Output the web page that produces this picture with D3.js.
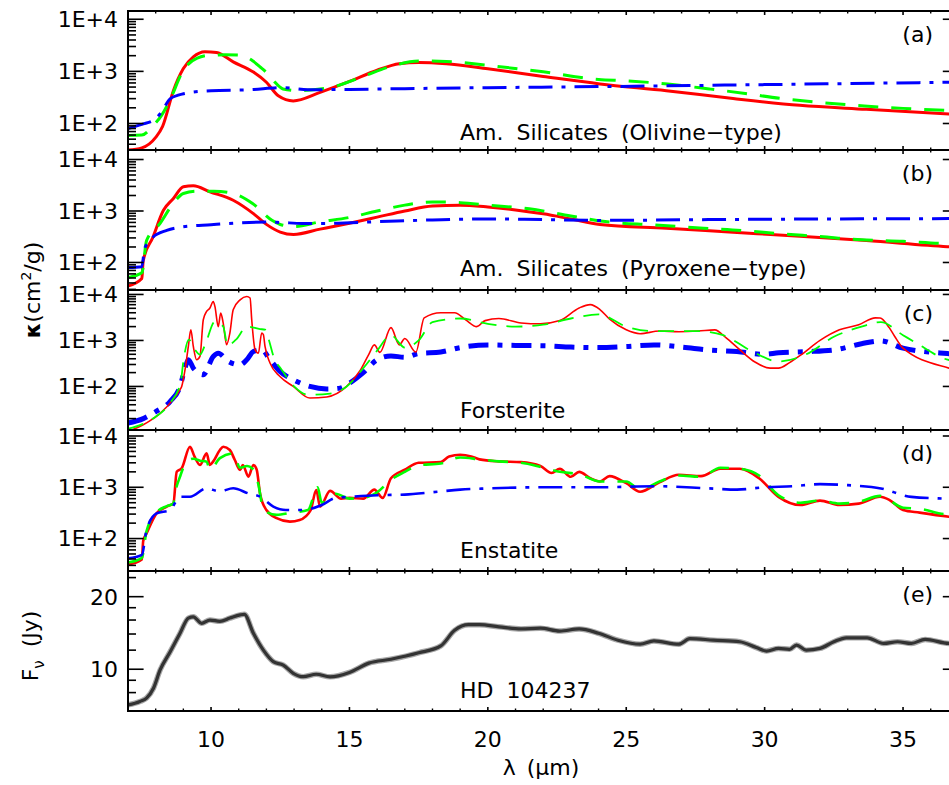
<!DOCTYPE html>
<html><head><meta charset="utf-8">
<script src="https://cdn.jsdelivr.net/npm/d3@7"></script>
<style>
body{margin:0;background:#fff}
svg{display:block}
text{font-family:"DejaVu Sans",sans-serif;fill:#000}
</style>
</head><body>
<svg id="c" width="949" height="785"></svg>
<script>
// ---------------- DATA ----------------
// Panel (a) Am. Silicates (Olivine-type)
const aRedX = [7.0,7.5,8.0,8.25,8.64,9.0,9.36,9.78,10.2,10.8,11.53,12.0,12.43,12.97,13.94,15.0,16.0,16.8,17.5,18.5,20.0,22.0,24.05,26.45,28.86,31.27,33.67,37.0];
const aRedY = [31,34,54,88,426,1130,1900,2390,2300,1525,970,618,340,271,395,640,1050,1400,1480,1400,1120,800,575,426,301,223,187,148];
const aGreenX = [7.0,7.5,7.9,8.2,8.5,9.0,9.5,10.0,10.5,11.0,11.5,11.77,12.0,12.25,12.6,13.2,13.6,14.5,15.5,16.5,17.5,18.5,20.0,22.0,24.0,25.0,26.5,28.0,29.3,30.6,32.1,33.6,35.0,37.0];
const aGreenY = [59,60,90,140,270,1050,1800,2050,2080,2050,1600,1215,950,668,460,426,440,520,800,1250,1580,1550,1300,980,700,660,570,460,377,301,251,217,195,175];
const aBlueX = [7.0,7.5,7.98,8.23,8.52,9.0,10.0,11.4,12.6,13.5,15.0,17.0,20.0,24.0,30.0,36.6,37.0];
const aBlueY = [80,96,121,173,297,371,426,445,487,445,450,466,487,510,557,618,622];

// Panel (b) Am. Silicates (Pyroxene-type)
const bRedX = [7.0,7.5,7.55,7.9,8.28,8.64,9.0,9.36,9.96,10.8,11.53,12.0,12.5,12.98,13.94,15.0,16.0,17.0,18.0,19.0,20.0,21.0,22.0,23.0,24.05,26.45,28.86,31.27,33.67,36.6,37.0];
const bRedY = [35,49,108,309,1030,1750,2950,3100,2360,1620,890,550,390,350,444,580,760,1000,1250,1300,1200,1050,880,700,548,464,387,324,266,203,197];
const bGreenX = [7.0,7.5,7.67,8.16,8.64,9.0,9.5,10.1,10.8,11.5,12.2,12.5,13.0,13.9,15.0,16.0,17.0,18.0,19.0,20.0,21.5,23.0,24.4,25.9,27.8,29.2,30.6,32.0,33.5,35.0,36.3,37.0];
const bGreenY = [51,63,266,574,1420,2190,2430,2430,2190,1400,660,548,500,610,750,1000,1300,1500,1450,1300,1100,800,610,540,464,418,360,319,275,258,236,230];
const bBlueX = [7.0,7.5,7.6,7.9,8.4,8.9,10.0,12.0,12.5,13.3,14.0,16.0,18.0,20.0,22.0,24.0,28.0,32.0,37.0];
const bBlueY = [80,83,186,309,419,486,541,609,600,574,574,620,670,700,680,657,680,700,712];

// Panel (c) Forsterite
const cRedX = [7.0,7.55,7.8,8.16,8.64,8.88,8.94,9.06,9.18,9.27,9.36,9.48,9.6,9.72,9.84,9.96,10.08,10.14,10.26,10.35,10.44,10.56,10.68,10.8,11.05,11.29,11.41,11.47,11.59,11.71,11.83,11.89,11.95,12.13,12.49,12.97,13.57,14.18,14.9,15.4,15.7,15.9,16.1,16.5,16.8,17.0,17.4,17.7,18.3,18.8,19.2,19.6,19.9,20.4,21.2,21.9,22.6,23.3,23.7,24.05,24.4,25.0,25.5,26.2,26.9,27.6,28.2,28.6,29.1,29.65,30.2,30.5,30.9,31.3,32.0,32.7,33.4,34.0,34.17,34.5,34.7,35.0,36.66,37.0];
const cRedY = [10.5,14.7,18,26,53,85,100,230,740,1710,740,380,450,2820,4270,5060,7050,5500,2000,3940,2390,810,1450,4650,7650,9050,8360,2820,630,530,1450,1340,740,323,165,100,56,59,100,230,500,800,550,1900,800,1100,560,3100,4000,4000,2800,2000,2700,3000,2400,2300,2700,5100,6000,4700,2900,1700,1400,1600,1550,1600,1700,1150,630,340,250,250,330,480,1000,1700,2200,3100,3070,1900,1220,680,250,220];
const cGreenX = [7.0,7.5,8.0,8.5,8.9,9.0,9.2,9.42,9.6,9.8,10.14,10.3,10.44,10.6,10.9,11.3,11.77,11.95,12.05,12.3,12.5,13.0,13.5,14.3,14.9,15.5,16.0,16.5,17.0,17.5,18.0,19.0,20.0,21.0,22.0,23.0,24.0,25.0,26.0,27.5,28.5,29.5,30.5,31.5,32.5,33.5,34.2,35.0,35.45,36.5,37.0];
const cGreenY = [12,15,22,42,120,350,1040,630,490,850,2590,2300,2000,780,1040,2000,1770,1710,1220,380,255,100,66,70,100,250,600,1300,700,1000,2500,3000,2300,2000,2200,3000,3700,2000,1600,1600,1300,600,350,500,1200,2000,2500,1300,900,400,340];
const cBlueX = [7.0,7.55,8.03,8.52,8.88,9.06,9.18,9.36,9.72,10.08,10.26,10.62,11.05,11.29,11.53,11.83,12.13,12.49,12.97,13.57,14.18,14.66,15.0,15.5,16.0,16.5,17.0,17.5,18.3,19.0,20.0,21.0,22.0,23.0,24.0,25.0,26.0,27.0,28.0,29.0,30.0,30.5,31.5,32.5,33.5,34.2,35.0,36.6,37.0];
const cBlueY = [16,20,29,47,100,250,380,250,180,450,530,350,295,380,575,630,380,212,140,100,88,92,118,200,380,460,430,520,560,700,800,780,770,720,700,740,800,720,620,575,500,540,570,620,850,980,680,520,500];

// Panel (d) Enstatite
const dRedX = [7.0,7.5,7.55,7.67,8.03,8.4,8.64,8.76,8.94,9.24,9.4,9.6,9.84,9.96,10.08,10.32,10.44,10.68,10.86,11.05,11.15,11.35,11.53,11.65,11.77,12.0,12.37,12.85,13.2,13.6,13.8,13.94,14.3,14.7,15.0,15.5,15.9,16.2,16.5,17.0,17.5,18.3,18.6,19.0,19.4,19.7,20.4,21.2,21.9,22.3,22.6,23.0,23.3,23.7,24.05,24.4,25.0,25.5,26.2,26.9,27.7,28.4,29.1,29.8,30.5,31.3,32.0,32.7,33.4,34.17,34.5,35.0,35.6,36.66,37.0];
const dRedY = [31,39,90,126,310,420,487,2000,2340,6180,4000,2720,4590,2720,3200,5330,6180,5330,3400,2180,2700,1610,2720,2200,760,360,250,214,230,360,885,420,850,600,620,600,900,620,1500,2200,3000,3100,4000,4300,4000,3500,3200,3100,2600,1900,2300,1600,2000,1500,1300,1650,1200,820,1250,1750,1650,2300,2300,1500,650,450,550,450,480,655,570,360,320,267,255];
const dGreenX = [7.0,7.5,7.67,8.03,8.4,8.64,8.7,8.88,9.12,9.36,9.6,9.84,9.96,10.32,10.8,11.05,11.3,11.5,11.7,11.9,12.37,12.9,13.5,13.85,14.0,14.5,15.0,15.5,16.0,16.5,17.0,17.5,18.3,19.0,19.7,20.4,21.2,21.9,22.6,23.3,24.05,25.0,25.5,26.2,26.9,27.7,28.4,29.1,29.8,30.5,31.3,32.0,32.7,33.4,34.17,35.0,35.6,36.5,37.0];
const dGreenY = [34,42,140,320,430,480,760,1610,3160,3600,3300,3160,2180,3700,4590,2400,2600,2300,1200,360,290,320,360,1000,500,750,600,620,800,1400,2000,2700,2900,3800,3500,3200,3000,2500,2000,1800,1300,1300,900,1300,1700,1600,2400,2300,1700,700,500,550,480,520,680,400,380,300,290];
const dBlueX = [7.0,7.5,7.67,8.03,8.52,8.88,9.24,9.84,10.3,10.8,11.35,11.77,12.25,12.7,13.2,13.6,14.0,14.5,15.0,16.0,17.0,18.0,19.0,20.0,22.0,24.0,26.0,28.0,29.0,30.0,31.0,32.0,33.0,34.2,35.3,36.6,37.0];
const dBlueY = [41,48,147,310,360,655,655,955,830,955,760,655,420,360,360,380,450,620,650,700,720,800,900,950,1000,1000,1050,950,900,1000,1050,1150,1100,950,650,600,590];

// Panel (e) HD 104237 spectrum (Jy)
const eFluxX = [7.0,7.43,7.67,7.92,8.16,8.52,8.88,9.18,9.36,9.66,9.96,10.32,10.68,11.05,11.2,11.53,11.89,12.25,12.61,12.97,13.33,13.8,14.3,15.0,15.7,16.5,17.5,18.3,18.8,19.3,19.7,20.4,21.2,21.9,22.6,23.3,24.0,24.7,25.5,26.0,26.9,27.3,28.15,29.1,29.7,30.07,30.5,30.9,31.15,31.5,32.0,32.5,32.95,33.7,34.3,34.8,35.3,35.8,36.66,37.0];
const eFluxY = [7.11,7.35,7.59,8.34,9.93,11.8,14.1,16.3,16.5,15.5,16.0,15.8,16.3,16.8,16.9,14.1,12.0,10.75,10.4,9.62,9.31,9.53,9.3,9.7,10.6,11.0,11.7,12.5,14.5,15.3,15.3,15.0,14.7,14.8,14.4,14.7,14.1,13.2,12.7,13.1,12.7,13.4,13.2,13.0,12.3,11.9,12.2,12.1,12.6,12.0,12.2,13.0,13.5,13.5,12.8,13.0,12.8,13.3,12.8,12.8];

// Axis ticks / labels
const xMajorTicks = [10,15,20,25,30,35];
const xMinorTicks = [8,9,11,12,13,14,16,17,18,19,21,22,23,24,26,27,28,29,31,32,33,34,36];
const logMajorTicks = [100,1000,10000];
const logTickLabels = ["1E+2","1E+3","1E+4"];
const eMajorTicks = [10,20];
const eMinorTicks = [8,9,12,14,16,18,24];
const panelLetters = ["(a)","(b)","(c)","(d)","(e)"];
const panelNames = ["Am. Silicates (Olivine\u2212type)","Am. Silicates (Pyroxene\u2212type)","Forsterite","Enstatite","HD 104237"];

// ---------------- LAYOUT ----------------
const svg = d3.select("#c");
const X0 = 128, X1 = 958.4;
const x = d3.scaleLinear().domain([7,37]).range([X0,X1]);

const panels = [
  {top:11,  bot:150, dom:[31,14400]},
  {top:150, bot:290, dom:[29.2,15300]},
  {top:290, bot:430, dom:[11.3,12500]},
  {top:430, bot:571, dom:[23.3,13090]},
  {top:571, bot:711, dom:[6.71,25.56]}
];
panels.forEach(p => { p.y = d3.scaleLog().domain(p.dom).range([p.bot,p.top]); });

const RED="#ff0000", GREEN="#00ff00", BLUE="#0000ff";
const series = [
  [ {x:aRedX,y:aRedY,c:RED,w:3,d:null},{x:aGreenX,y:aGreenY,c:GREEN,w:3,d:"20,13"},{x:aBlueX,y:aBlueY,c:BLUE,w:3,d:"24,9,4,9"} ],
  [ {x:bRedX,y:bRedY,c:RED,w:3,d:null},{x:bGreenX,y:bGreenY,c:GREEN,w:3,d:"20,13"},{x:bBlueX,y:bBlueY,c:BLUE,w:3,d:"24,9,4,9"} ],
  [ {x:cBlueX,y:cBlueY,c:BLUE,w:5,d:"20,9,5,9"},{x:cRedX,y:cRedY,c:RED,w:1.6,d:null},{x:cGreenX,y:cGreenY,c:GREEN,w:1.8,d:"16,10"} ],
  [ {x:dRedX,y:dRedY,c:RED,w:2.6,d:null},{x:dGreenX,y:dGreenY,c:GREEN,w:2.6,d:"20,13"},{x:dBlueX,y:dBlueY,c:BLUE,w:2.6,d:"24,9,4,9"} ]
];

const defs = svg.append("defs");
panels.forEach((p,i)=>{
  defs.append("clipPath").attr("id","clip"+i).append("rect")
    .attr("x",X0).attr("y",p.top).attr("width",X1-X0).attr("height",p.bot-p.top);
});

function logTicks(dom){
  const out=[]; const lo=Math.floor(Math.log10(dom[0])), hi=Math.ceil(Math.log10(dom[1]));
  for(let e=lo;e<=hi;e++) for(let k=1;k<=9;k++){const v=k*Math.pow(10,e); if(v>=dom[0]&&v<=dom[1]) out.push({v:v,major:k===1});}
  return out;
}

panels.forEach((p,i)=>{
  const g = svg.append("g");
  const lg = g.append("g").attr("clip-path","url(#clip"+i+")");
  if(i<4){
    series[i].forEach(s=>{
      const pts = s.x.map((xv,j)=>[xv,s.y[j]]);
      const line = d3.line().x(d=>x(d[0])).y(d=>p.y(d[1])).curve(d3.curveMonotoneX);
      lg.append("path").attr("d",line(pts)).attr("fill","none").attr("stroke",s.c)
        .attr("stroke-width",s.w).attr("stroke-dasharray",s.d).attr("stroke-linejoin","round");
    });
  } else {
    const pts = eFluxX.map((xv,j)=>[xv,eFluxY[j]]);
    const line = d3.line().x(d=>x(d[0])).y(d=>p.y(d[1])).curve(d3.curveMonotoneX);
    lg.append("path").attr("d",line(pts)).attr("fill","none").attr("stroke","#a8a8a8").attr("stroke-width",5.5).attr("stroke-linejoin","round");
    lg.append("path").attr("d",line(pts)).attr("fill","none").attr("stroke","#333").attr("stroke-width",3.2).attr("stroke-linejoin","round");
  }
  let ticks;
  if(i<4) ticks = logTicks(p.dom);
  else ticks = eMajorTicks.map(v=>({v:v,major:true})).concat(eMinorTicks.map(v=>({v:v,major:false})));
  ticks.forEach(t=>{
    const yy = p.y(t.v); const L = t.major?15.6:8;
    g.append("line").attr("x1",X0).attr("x2",X0+L).attr("y1",yy).attr("y2",yy).attr("stroke","#000").attr("stroke-width",1.6);
    g.append("line").attr("x1",X1).attr("x2",X1-L).attr("y1",yy).attr("y2",yy).attr("stroke","#000").attr("stroke-width",1.6);
  });
  if(i<4){
    logMajorTicks.forEach((v,k)=>{
      g.append("text").attr("x",118).attr("y",p.y(v)).attr("dy","0.36em").attr("text-anchor","end")
        .attr("font-size",22).text(logTickLabels[k]);
    });
  } else {
    eMajorTicks.forEach(v=>{
      g.append("text").attr("x",118).attr("y",p.y(v)).attr("dy","0.36em").attr("text-anchor","end")
        .attr("font-size",22).text(v);
    });
  }
  xMajorTicks.forEach(v=>{
    g.append("line").attr("x1",x(v)).attr("x2",x(v)).attr("y1",p.top).attr("y2",p.top+4).attr("stroke","#000").attr("stroke-width",1.6);
    g.append("line").attr("x1",x(v)).attr("x2",x(v)).attr("y1",p.bot).attr("y2",p.bot-4).attr("stroke","#000").attr("stroke-width",1.6);
  });
  xMinorTicks.forEach(v=>{
    g.append("line").attr("x1",x(v)).attr("x2",x(v)).attr("y1",p.top).attr("y2",p.top+2.5).attr("stroke","#000").attr("stroke-width",1.4);
    g.append("line").attr("x1",x(v)).attr("x2",x(v)).attr("y1",p.bot).attr("y2",p.bot-2.5).attr("stroke","#000").attr("stroke-width",1.4);
  });
  g.append("rect").attr("x",X0).attr("y",p.top).attr("width",X1-X0).attr("height",p.bot-p.top)
    .attr("fill","none").attr("stroke","#000").attr("stroke-width",2);
  g.append("text").attr("x",933).attr("y",p.top+31).attr("text-anchor","end").attr("font-size",22).text(panelLetters[i]);
  const nameBase = [140,276,418,558,698][i];
  g.append("text").attr("x",460).attr("y",nameBase).attr("font-size",22).attr("word-spacing",6).text(panelNames[i]);
});

xMajorTicks.forEach(v=>{
  svg.append("text").attr("x",x(v)).attr("y",747).attr("text-anchor","middle").attr("font-size",22).text(v);
});
svg.append("text").attr("x",541).attr("y",775).attr("text-anchor","middle").attr("font-size",22)
  .attr("word-spacing",4).text("\u03bb (\u03bcm)");
const kt = svg.append("text").attr("transform","translate(40,290) rotate(-90)").attr("text-anchor","middle").attr("font-size",22);
kt.append("tspan").attr("font-weight","bold").text("\u03ba");
kt.append("tspan").text("(cm");
kt.append("tspan").attr("font-size",14).attr("dy",-9).text("2");
kt.append("tspan").attr("dy",9).text("/g)");
const ft = svg.append("text").attr("transform","translate(38,646) rotate(-90)").attr("text-anchor","middle").attr("font-size",22);
ft.append("tspan").text("F");
ft.append("tspan").attr("font-size",15).attr("dy",6).text("\u03bd");
ft.append("tspan").attr("dy",-6).attr("word-spacing",6).text(" (Jy)");
</script>
</body></html>
